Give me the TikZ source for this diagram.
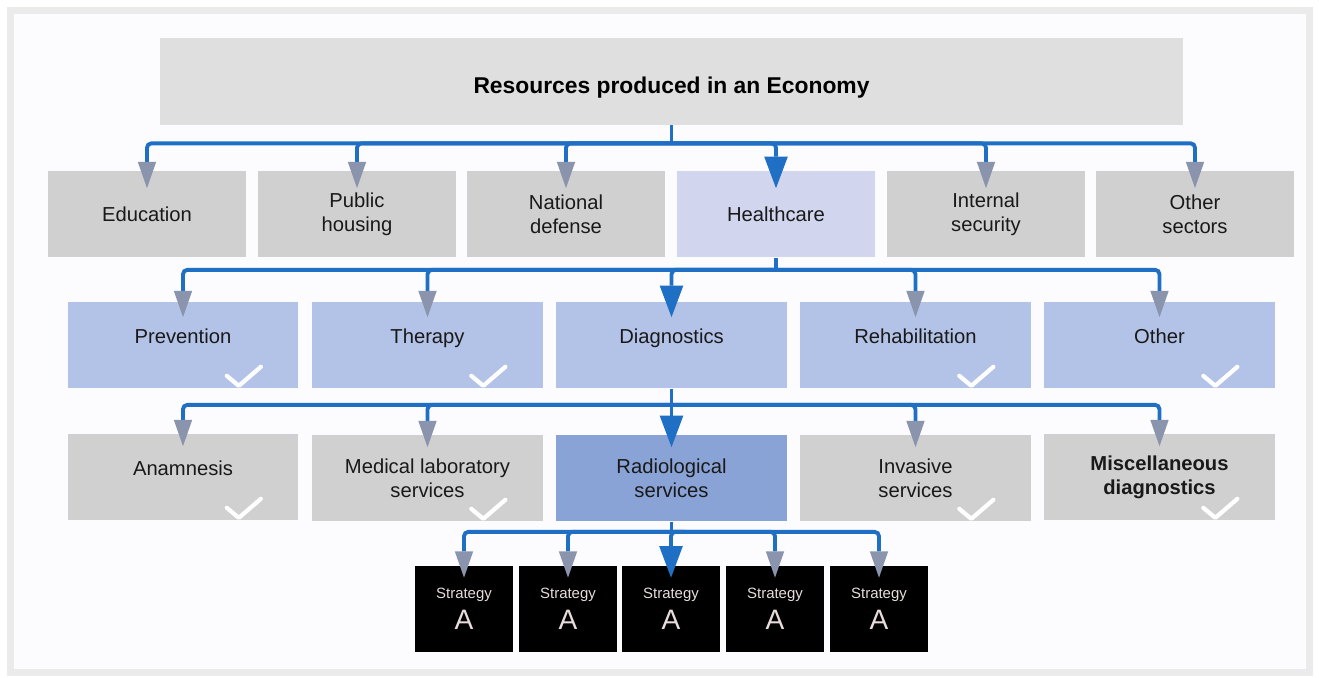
\documentclass[tikz,border=0pt]{standalone}
\usepackage{fontspec}
\setmainfont{Liberation Sans}
\usetikzlibrary{positioning, calc, arrows.meta}
\definecolor{busblue}{HTML}{1F6FC4}
\definecolor{tipgray}{HTML}{8A94AC}
\definecolor{boxgray}{HTML}{D0D0D0}
\definecolor{topgray}{HTML}{DFDFDF}
\definecolor{lavender}{HTML}{D1D6EE}
\definecolor{lightblue}{HTML}{B3C3E8}
\definecolor{midblue}{HTML}{8AA3D6}
\definecolor{framegray}{HTML}{EBEBEB}
\definecolor{strattext}{HTML}{E8DCDC}
\tikzset{
  box/.style={minimum height=1.74cm, align=center, inner sep=2pt, text=black!90,
    font=\fontsize{11.5}{13.6}\selectfont},
  wide/.style={box, minimum width=3.96cm},
  mid/.style={box, minimum width=4.62cm},
  up/.style={text depth=10pt},
  strat/.style={minimum width=1.96cm, minimum height=1.72cm, fill=black, align=center,
    text=strattext, inner sep=0pt},
  bus/.style={draw=busblue, line width=2.2pt, rounded corners=2.5pt},
  tipg/.style={bus, -{Triangle[width=10.5pt, length=15pt, line width=0pt, color=tipgray]}},
  tipb/.style={bus, -{Triangle[width=13.5pt, length=18pt, line width=0pt, color=busblue]}},
  check/.style={draw=white, line width=2.4pt, line cap=round, line join=round},
}

\begin{document}
\begin{tikzpicture}[x=0.02cm, y=-0.02cm]
  \useasboundingbox (0,0) rectangle (1319,678);
  % Frame
  \fill[framegray] (7,7) rectangle (1313,676);
  \fill[white!99!blue] (14,14) rectangle (1306,669);

  % Top level
  \node[fill=topgray, minimum width=20.46cm, minimum height=1.74cm, text height=16pt,
    font=\bfseries\fontsize{13}{15}\selectfont] (res) at (671.5,81.5) {Resources produced in an Economy};

  % Sectors
  \foreach \n/\x/\c/\t in {edu/147/boxgray/Education, pub/357/boxgray/{Public\\housing},
      def/566/boxgray/{National\\defense}, hea/776/lavender/Healthcare,
      sec/986/boxgray/{Internal\\security}, osec/1195/boxgray/{Other\\sectors}}
    \node[wide, fill=\c] (\n) at (\x,214) {\t};

  % Healthcare areas
  \foreach \n/\x/\t in {pre/183/Prevention, the/427.5/Therapy, dia/671.5/Diagnostics,
      reh/915.5/Rehabilitation, oth/1159.5/Other}
    \node[mid, up, fill=lightblue] (\n) at (\x,345) {\t};

  % Diagnostics
  \node[mid, up, fill=boxgray] (anam) at (183,477) {Anamnesis};
  \foreach \n/\x/\c/\t in {med/427.5/boxgray/{Medical laboratory\\services},
      rad/671.5/midblue/{Radiological\\services}, inv/915.5/boxgray/{Invasive\\services}}
    \node[mid, fill=\c] (\n) at (\x,478) {\t};
  \node[mid, fill=boxgray, font=\bfseries\fontsize{11.5}{13.6}\selectfont] (misc) at (1159.5,477)
    {Miscellaneous\\diagnostics};

  % Strategies
  \foreach \i/\x in {1/464, 2/568, 3/671, 4/775, 5/879}
    \node[strat] (s\i) at (\x,609)
      {\fontsize{8.5}{10}\selectfont Strategy\\[4pt]{\fontsize{16}{18}\selectfont A}};

  % Checks
  \foreach \n in {pre,the,reh,oth,anam,med,inv,misc}
    \draw[check] ([shift={(-72,-13)}]\n.south east) -- ++(12,10) -- ++(22,-19);

  % Arrows
  \coordinate (b1) at ($(res.south)+(0,18)$);
  \draw[bus] (res.south) -- (b1);
  \foreach \n in {edu,pub,def,sec,osec}
    \draw[tipg] (b1) -| ($(\n.north)+(0,18)$);
  \draw[tipb] (b1) -| ($(hea.north)+(0,18)$);

  \coordinate (b2) at ($(hea.south)+(0,12)$);
  \draw[bus] (hea.south) -- (b2);
  \foreach \n in {pre,the,reh,oth}
    \draw[tipg] (b2) -| ($(\n.north)+(0,16)$);
  \draw[tipb] (b2) -| ($(dia.north)+(0,16)$);

  \coordinate (b3) at ($(dia.south)+(0,16)$);
  \draw[bus] (dia.south) -- (b3);
  \foreach \n in {anam,med,inv,misc}
    \draw[tipg] (b3) -| ($(\n.north)+(0,13)$);
  \draw[tipb] (b3) -| ($(rad.north)+(0,13)$);

  \coordinate (b4) at ($(rad.south)+(0,10)$);
  \draw[bus] (rad.south) -- (b4);
  \foreach \i in {1,2,4,5}
    \draw[tipg] (b4) -| ($(s\i.north)+(0,12)$);
  \draw[tipb] (b4) -| ($(s3.north)+(0,12)$);
\end{tikzpicture}
\end{document}
